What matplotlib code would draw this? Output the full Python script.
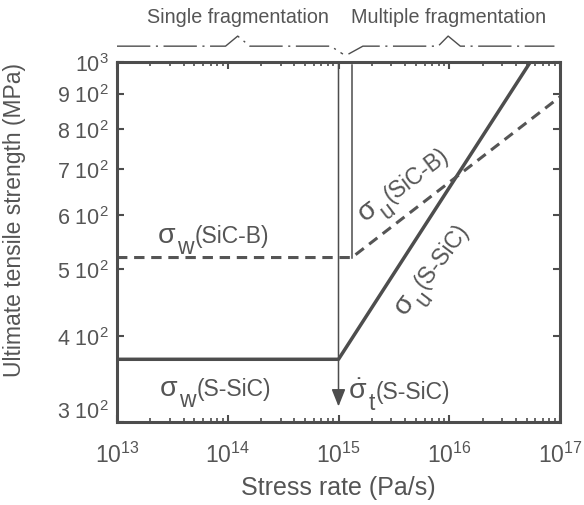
import numpy as np
import matplotlib
matplotlib.use("Agg")
import matplotlib.pyplot as plt
import matplotlib.transforms as mtrans

plt.rcParams['font.family'] = ['Liberation Sans', 'DejaVu Sans']
plt.rcParams['mathtext.fontset'] = 'custom'
plt.rcParams['mathtext.rm'] = 'Liberation Sans'
plt.rcParams['mathtext.it'] = 'Liberation Sans:italic'
plt.rcParams['mathtext.default'] = 'regular'

# data
s_sic_x = [1e13, 1e15, 5.4e16]
s_sic_y = [370, 370, 1000]
sicb_x = [1e13, 1.32e15, 1e17]
sicb_y = [520, 520, 890]
rate_t = 1e15          # transition stress rate S-SiC
rate_b = 1.32e15       # transition stress rate SiC-B

yticks = [300, 400, 500, 600, 700, 800, 900, 1000]
ylabels = ['3 10$^2$', '4 10$^2$', '5 10$^2$', '6 10$^2$', '7 10$^2$',
           '8 10$^2$', '9 10$^2$', '10$^3$']
xticks = [1e13, 1e14, 1e15, 1e16, 1e17]
xlabels = ['10$^{13}$', '10$^{14}$', '10$^{15}$', '10$^{16}$', '10$^{17}$']

grey = '#555555'
dark = '#4d4d4d'

fig = plt.figure(figsize=(5.84, 5.06), dpi=100)
ax = fig.add_axes([117/584, 1-423/506, 443/584, 360/506])

ax.plot(s_sic_x, s_sic_y, color=dark, lw=2.5, solid_capstyle='butt')
ax.plot(sicb_x, sicb_y, color=grey, lw=2.2, ls=(0, (3.4, 2.2)))

# thin vertical markers
ax.plot([rate_b, rate_b], [520, 990], color=dark, lw=1.1)
ax.annotate('', xy=(rate_t, 316), xytext=(rate_t, 1000),
            arrowprops=dict(arrowstyle='-|>,head_length=0.5,head_width=0.2',
                            color=dark, lw=1.1, mutation_scale=21,
                            shrinkA=0, shrinkB=0))

ax.set_xscale('log')
ax.set_yscale('log')
ax.set_xlim(1e13, 1e17)
ax.set_ylim(300, 1000)

ax.yaxis.set_major_locator(matplotlib.ticker.FixedLocator(yticks))
ax.yaxis.set_major_formatter(matplotlib.ticker.FixedFormatter(ylabels))
ax.yaxis.set_minor_locator(matplotlib.ticker.NullLocator())
ax.xaxis.set_major_locator(matplotlib.ticker.FixedLocator(xticks))
ax.xaxis.set_major_formatter(matplotlib.ticker.FixedFormatter(xlabels))
ax.xaxis.set_minor_locator(matplotlib.ticker.LogLocator(base=10, subs=np.arange(2, 10)))

ax.tick_params(which='both', direction='in', top=True, right=True,
               color=dark, labelcolor=grey)
ax.tick_params(which='major', length=5, width=1.5)
ax.tick_params(which='minor', length=3, width=1.2)
ax.tick_params(axis='x', pad=14, labelsize=16.5)
ax.tick_params(axis='y', pad=6, labelsize=15.5)
for sp in ax.spines.values():
    sp.set_linewidth(2.2)
    sp.set_color(dark)

# the bottom y label sits a bit higher in the original
lab0 = ax.get_yticklabels()[0]
lab0.set_transform(lab0.get_transform() +
                   mtrans.ScaledTranslation(0, 13/100, fig.dpi_scale_trans))

ax.set_xlabel('Stress rate (Pa/s)', fontsize=18, color=grey)
ax.set_ylabel('Ultimate tensile strength (MPa)', fontsize=16.5, color=grey)
ax.xaxis.set_label_coords(0.5, -0.147)
ax.yaxis.set_label_coords(-0.205, 0.565)

# curve labels: big sigma, full size lowered subscript, then the name
renderer = fig.canvas.get_renderer()
pix = mtrans.IdentityTransform()


def rich(xd, yd, parts, angle=0, center=False):
    x0, y0 = ax.transData.transform((xd, yd))
    widths = []
    for s, size, dy, gap in parts:
        t = fig.text(0, 0, s, fontsize=size)
        widths.append(t.get_window_extent(renderer).width + gap)
        t.remove()
    W = sum(widths)
    a = np.deg2rad(angle)
    c, sn = np.cos(a), np.sin(a)
    if center:
        x0 += -W / 2 * c + 10 * sn
        y0 += -W / 2 * sn - 10 * c
    pos = 0
    for (s, size, dy, gap), w in zip(parts, widths):
        ox = pos * c + dy * sn
        oy = pos * sn - dy * c
        fig.text(x0 + ox, y0 + oy, s, transform=pix, fontsize=size, color=grey,
                 rotation=angle, rotation_mode='anchor', ha='left', va='baseline')
        pos += w


fs = 16.5
sig = 20.5
sub = 11
rich(2.35e13, 547, [('σ', sig, 0, 1), ('w', fs, sub, 1), ('(SiC-B)', fs, 0, 0)])
rich(2.45e13, 328, [('σ', sig, 0, 1), ('w', fs, sub, 1), ('(S-SiC)', fs, 0, 0)])
rich(1.22e15, 325, [('$\\dot{\\sigma}$', sig, 0, 1), ('t', fs, sub, 1),
                    ('(S-SiC)', fs, 0, 0)])
rich(10**15.57, 672, [('σ', sig, 0, 1), ('u', fs, sub, 1), ('(SiC-B)', fs, 0, 0)],
     angle=37, center=True)
rich(10**15.82, 505, [('σ', sig, 0, 1), ('u', fs, sub, 1), ('(S-SiC)', fs, 0, 0)],
     angle=53, center=True)

# braces above the axes
tr = mtrans.blended_transform_factory(ax.transData, ax.transAxes)
b1x = [1e13, 10**13.98, 10**14.09, 10**14.2, 10**14.93, 10**15.04]
b1y = [1.044, 1.044, 1.072, 1.044, 1.044, 1.022]
b2x = [10**15.09, 10**15.22, 10**15.9, 10**15.99, 10**16.1, 10**16.95]
b2y = [1.022, 1.044, 1.044, 1.072, 1.044, 1.044]
brace_ls = (0, (24, 4, 1.5, 4))
ax.plot(b1x, b1y, transform=tr, clip_on=False, color=dark, lw=1.0, ls=brace_ls)
ax.plot(b2x, b2y, transform=tr, clip_on=False, color=dark, lw=1.0, ls=brace_ls)
ax.text(10**14.09, 1.125, 'Single fragmentation', transform=tr, ha='center',
        va='center', fontsize=14.2, color=grey)
ax.text(10**15.99, 1.125, 'Multiple fragmentation', transform=tr, ha='center',
        va='center', fontsize=14.2, color=grey)

fig.savefig('out.png', dpi=100)
